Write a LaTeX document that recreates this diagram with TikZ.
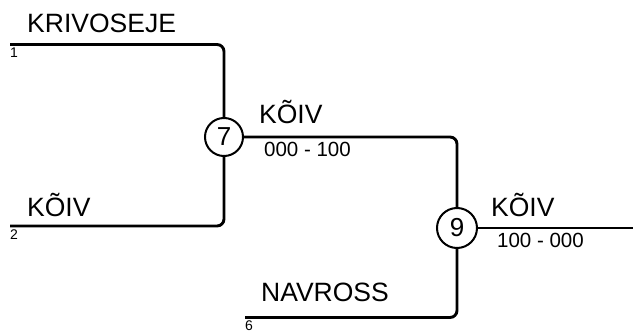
\documentclass[tikz,border=0pt]{standalone}
\usepackage{fontspec}
\setmainfont{Liberation Sans}
\begin{document}
\begin{tikzpicture}[x=1pt,y=-1pt,
  pipe/.style={line width=2.9pt, rounded corners=7pt},
  junction/.style={circle, draw, line width=2pt, minimum size=38pt, inner sep=0pt, font=\fontsize{26}{26}\selectfont},
  pname/.style={anchor=base west, inner sep=0pt, font=\fontsize{26.5}{26.5}\selectfont},
  idxlbl/.style={anchor=north west, inner sep=0pt, font=\fontsize{14}{14}\selectfont},
  rnglbl/.style={anchor=base west, inner sep=0pt, font=\fontsize{20.5}{20.5}\selectfont}]
\useasboundingbox (0,0) rectangle (633,331);
% junctions
\node[junction] (c7) at (224,137) {7};
\node[junction, minimum size=40pt] (c9) at (457,228) {9};
% ends
\coordinate (s1) at (10,44.5);
\coordinate (s2) at (10,226);
\coordinate (s6) at (245,317.5);
\coordinate (out) at (633,228);
% pipes
\draw[pipe] (s1) -| (c7);
\draw[pipe] (s2) -| (c7);
\draw[pipe] (c7) -| (c9);
\draw[pipe] (s6) -| (c9);
\draw[pipe] (c9) -- (out);
% labels
\node[pname] (n1) at (27,33) {KRIVOSEJE};
\node[idxlbl] (i1) at (10,48) {1};
\node[pname] (n2) at (27,216.5) {KÕIV};
\node[idxlbl] (i2) at (10,229.5) {2};
\node[pname] (n6) at (261,301.5) {NAVROSS};
\node[idxlbl] (i6) at (245,321) {6};
\node[pname] (n7) at (259,124) {KÕIV};
\node[rnglbl] (r7) at (264,157) {000 - 100};
\node[pname] (n9) at (491,216.5) {KÕIV};
\node[rnglbl] (r9) at (497,248) {100 - 000};
\end{tikzpicture}
\end{document}
